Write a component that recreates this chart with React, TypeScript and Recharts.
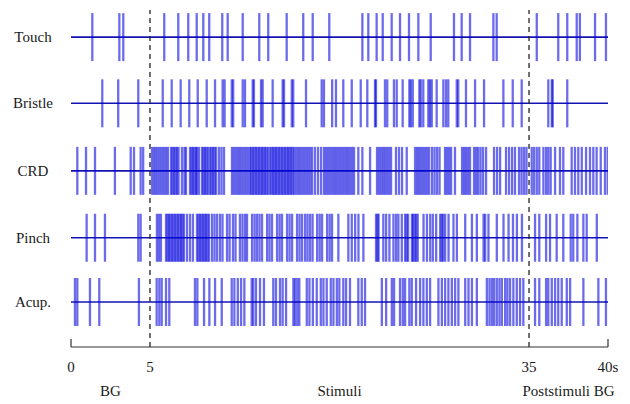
import React from "react";
import { ComposedChart, Scatter, Line, XAxis, YAxis, ReferenceLine } from "recharts";

// spike times in seconds
const TOUCH = [
  1.35, 3.06, 3.31, 6.13, 7.24, 8.03, 8.7, 9.22, 9.69, 10.72, 11.15, 12.34, 13.65, 14.36, 15.82,
  17.13, 17.88, 19.19, 21.81, 22.28, 22.94, 23.42, 24.13, 24.79, 25.5, 26.24, 27.22, 29.06, 29.67,
  30.33, 32.18, 32.44, 35.49, 36.85, 37.42, 38.02, 38.22, 39.18, 39.87,
];
const BRISTLE = [
  1.98, 2.99, 4.26, 6.01, 6.72, 7.43, 8.11, 8.78, 9.49, 10.15, 10.75, 10.91, 11.47, 11.59, 12.34,
  12.52, 13.13, 13.23, 13.79, 13.92, 14.71, 15.5, 15.61, 16.22, 16.34, 17.35, 18.59, 18.77, 19.42,
  19.72, 20.3, 20.97, 21.68, 22.2, 22.81, 22.89, 23.6, 23.78, 24.31, 24.53, 25.0, 25.53, 25.64,
  25.8, 26.32, 26.43, 26.63, 27.03, 27.16, 27.3, 27.69, 28.22, 28.43, 28.61, 29.28, 29.4, 30.01,
  30.73, 31.44, 32.97, 33.71, 34.42, 36.22, 36.44, 36.5, 37.42,
];
const CRD = [
  0.4, 0.95, 1.52, 2.78, 3.78, 3.99, 4.41, 4.57,
  5.16, 5.32, 5.47, 5.63, 5.79, 5.95, 6.11, 6.27, 6.42, 6.66, 6.78, 6.9, 7.02, 7.14, 7.26, 7.53,
  7.73, 7.85, 8.17, 8.29, 8.4, 8.52, 8.64, 8.72, 8.88, 9.12, 9.24, 9.35, 9.47, 9.59, 9.75, 9.87,
  9.99, 10.11, 10.23, 10.46, 10.66, 10.86, 11.49, 11.65, 11.81, 11.97, 12.12, 12.28, 12.44, 12.6,
  12.76, 12.92, 13.03, 13.15, 13.27, 13.39, 13.51, 13.63, 13.75, 13.87, 13.98, 14.1, 14.22, 14.34,
  14.5, 14.62, 14.74, 14.86, 14.97, 15.09, 15.21, 15.33, 15.45, 15.57, 15.69, 15.81, 15.93, 16.04,
  16.16, 16.28, 16.4, 16.56, 16.72, 16.87, 17.03, 17.19, 17.35, 17.51, 17.67, 17.83, 18.06, 18.3,
  18.54, 18.77, 18.93, 19.09, 19.25, 19.41, 19.57, 19.72, 19.88, 20.04, 20.2, 20.36, 20.52, 20.67,
  20.83, 20.99, 21.15, 21.49, 21.81, 22.42, 22.97, 23.13, 23.29, 23.45, 23.6, 23.76, 23.92, 24.08,
  24.47, 24.71, 24.95, 25.32, 25.98, 26.14, 26.29, 26.45, 26.61, 26.77, 26.93, 27.09, 27.32, 27.52,
  27.72, 27.92, 28.35, 28.51, 28.67, 28.83, 29.14, 29.7, 29.86, 30.01, 30.17, 30.33, 30.65, 30.81,
  30.97, 31.16, 31.36, 31.6, 32.23, 32.47, 32.71, 33.18, 33.42, 33.66, 33.89, 34.21, 34.41, 34.61,
  34.8, 35.17, 35.32, 35.49, 35.65, 35.91, 36.08, 36.22, 36.37, 36.65, 36.96, 37.17, 37.7, 37.91,
  38.12, 38.34, 38.61, 38.86, 39.07, 39.28, 39.54, 39.81, 39.98,
];
const PINCH = [
  0.99, 1.52, 2.15, 4.26, 4.41,
  5.55, 5.71, 5.87, 6.27, 6.39, 6.5, 6.62, 6.74, 6.86, 6.98, 7.1, 7.22, 7.34, 7.46, 7.57, 7.69,
  7.93, 8.17, 8.4, 8.72, 8.84, 8.96, 9.08, 9.2, 9.32, 9.43, 9.55, 9.67, 9.91, 10.11, 10.31, 10.54,
  10.74, 11.1, 11.3, 11.57, 11.77, 12.12, 12.32, 12.52, 12.68, 13.08, 13.28, 13.47, 13.67, 13.87,
  14.27, 14.46, 14.66, 15.06, 15.26, 15.45, 15.85, 16.05, 16.25, 16.64, 16.84, 17.04, 17.28, 17.47,
  17.67, 17.87, 18.23, 18.43, 18.62, 19.02, 19.22, 19.41, 19.91, 20.7, 20.97, 21.24, 21.5, 21.89,
  22.89, 23.01, 23.09, 23.47, 23.69, 23.95, 24.27, 24.48, 24.66, 24.93, 25.19, 25.31, 25.43, 25.73,
  25.83, 25.95, 26.07, 26.19, 26.65, 26.92, 27.18, 27.39, 27.65, 27.97, 28.09, 28.2, 28.36, 28.63,
  29.02, 29.29, 29.95, 30.48, 30.87, 31.4, 31.53, 31.79, 32.45, 32.98, 33.38, 33.73, 34.04, 34.44,
  35.38, 35.65, 36.08, 36.33, 36.75, 37.17, 37.64, 37.8, 38.06, 38.44, 38.65, 39.29,
];
const ACUP = [
  0.25, 0.4, 1.2, 1.79, 4.3,
  5.53, 5.74, 5.93, 6.27, 6.53, 8.56, 8.75, 9.28, 9.7, 10.15, 10.68, 11.47, 11.68, 11.95, 12.21,
  12.47, 13.05, 13.18, 13.39, 13.71, 14.02, 14.76, 14.97, 15.29, 15.5, 15.77, 16.35, 16.48, 16.66,
  16.82, 17.41, 17.62, 17.89, 18.2, 18.52, 18.73, 18.99, 19.31, 19.52, 19.79, 19.99, 20.3, 20.52,
  20.83, 21.49, 21.76, 22.02, 23.35, 23.69, 24.14, 24.32, 24.79, 25.01, 25.19, 25.53, 25.72, 26.06,
  26.38, 26.64, 26.91, 27.17, 27.83, 28.1, 28.36, 28.62, 28.89, 29.15, 29.41, 29.95, 30.21, 30.48,
  30.87, 31.66, 31.87, 32.06, 32.24, 32.45, 32.66, 32.85, 33.11, 33.29, 33.5, 33.76, 34.03, 34.29,
  34.55, 35.38, 35.65, 36.08, 36.22, 36.44, 36.65, 36.85, 37.07, 37.39, 37.6, 38.44, 39.39, 39.87,
];

const ROW_NAMES = ["Touch", "Bristle", "CRD", "Pinch", "Acup."];
const ROW_LEVELS = [5, 4, 2.98, 1.97, 1];
const ROW_SPIKES = [TOUCH, BRISTLE, CRD, PINCH, ACUP];

const TIME_TICKS = [0, 5, 35, 40];
const TIME_LABELS = ["0", "5", "35", "40s"];
const PHASE_NAMES = ["BG", "Stimuli", "Poststimuli BG"];
const PHASE_MIDS = [2.5, 20, 37.5];

const STIM_ON = 5;
const STIM_OFF = 35;
const T_END = 40;
// the figure draws both 5 s background windows wider than the stimulus window
const BG_STRETCH = 1.25;

function warp(t: number) {
  if (t <= STIM_ON) return t * BG_STRETCH;
  if (t <= STIM_OFF) return STIM_ON * BG_STRETCH + (t - STIM_ON);
  return STIM_ON * BG_STRETCH + (STIM_OFF - STIM_ON) + (t - STIM_OFF) * BG_STRETCH;
}

const X_MAX = warp(T_END);
const Y_MIN = 0.32;
const Y_MAX = 5.5;
const DASH_TOP = 5.41;

const SERIF = "'Liberation Serif', 'DejaVu Serif', serif";
const SPIKE_COLOR = "#0000dc";
const TRACE_COLOR = "#1414b4";
const SPIKE_HALF = 24;

const Spike = (props: any) => {
  const { cx, cy } = props;
  if (cx == null || cy == null) return null;
  return (
    <line
      x1={cx}
      x2={cx}
      y1={cy - SPIKE_HALF}
      y2={cy + SPIKE_HALF}
      stroke={SPIKE_COLOR}
      strokeOpacity={0.58}
      strokeWidth={2.3}
    />
  );
};

const RowTick = ({ y, payload }: any) => {
  const i = ROW_LEVELS.indexOf(payload.value);
  return (
    <text x={33} y={y} dy={5} textAnchor="middle" fontFamily={SERIF} fontSize={15} fill="#1a1a1a">
      {ROW_NAMES[i]}
    </text>
  );
};

const TimeTick = ({ x, y, payload }: any) => {
  const v = payload.value;
  const ti = TIME_TICKS.findIndex((t) => Math.abs(warp(t) - v) < 1e-6);
  if (ti >= 0) {
    const t = TIME_TICKS[ti];
    const bracket = t === 0 || t === T_END;
    return (
      <g>
        {bracket && <line x1={x} x2={x} y1={y - 8} y2={y} stroke="#333" strokeWidth={1.2} />}
        <text x={x} y={y + 25} textAnchor="middle" fontFamily={SERIF} fontSize={15} fill="#1a1a1a">
          {TIME_LABELS[ti]}
        </text>
      </g>
    );
  }
  const pi = PHASE_MIDS.findIndex((t) => Math.abs(warp(t) - v) < 1e-6);
  return (
    <text x={x} y={y + 49} textAnchor="middle" fontFamily={SERIF} fontSize={15} fill="#1a1a1a">
      {PHASE_NAMES[pi]}
    </text>
  );
};

export default function App() {
  const ticks = [...TIME_TICKS, ...PHASE_MIDS].map(warp).sort((a, b) => a - b);

  return (
    <div style={{ position: "absolute", left: 0, top: 0, width: 630, height: 404, background: "#fff" }}>
      <ComposedChart width={630} height={404} margin={{ top: 4, right: 22, bottom: 0, left: 0 }}>
        <XAxis
          type="number"
          dataKey="x"
          domain={[0, X_MAX]}
          ticks={ticks}
          interval={0}
          tickSize={0}
          tickMargin={0}
          tickLine={false}
          height={57}
          axisLine={{ stroke: "#333", strokeWidth: 1.2 }}
          tick={<TimeTick />}
          allowDataOverflow
        />
        <YAxis
          type="number"
          dataKey="y"
          domain={[Y_MIN, Y_MAX]}
          ticks={ROW_LEVELS}
          interval={0}
          width={71}
          axisLine={false}
          tickLine={false}
          tick={<RowTick />}
          allowDataOverflow
        />
        {ROW_SPIKES.map((spikes, i) => (
          <Scatter
            key={ROW_NAMES[i]}
            name={ROW_NAMES[i]}
            data={spikes.map((t) => ({ x: warp(t), y: ROW_LEVELS[i] }))}
            shape={<Spike />}
            isAnimationActive={false}
          />
        ))}
        {ROW_LEVELS.map((lvl, i) => (
          <Line
            key={"trace-" + ROW_NAMES[i]}
            data={[
              { x: 0, y: lvl },
              { x: X_MAX, y: lvl },
            ]}
            dataKey="y"
            stroke={TRACE_COLOR}
            strokeWidth={1.6}
            dot={false}
            activeDot={false}
            isAnimationActive={false}
          />
        ))}
        {[STIM_ON, STIM_OFF].map((t) => (
          <ReferenceLine
            key={t}
            segment={[
              { x: warp(t), y: Y_MIN },
              { x: warp(t), y: DASH_TOP },
            ]}
            stroke="#222"
            strokeWidth={1.3}
            strokeDasharray="5 4"
          />
        ))}
      </ComposedChart>
    </div>
  );
}
